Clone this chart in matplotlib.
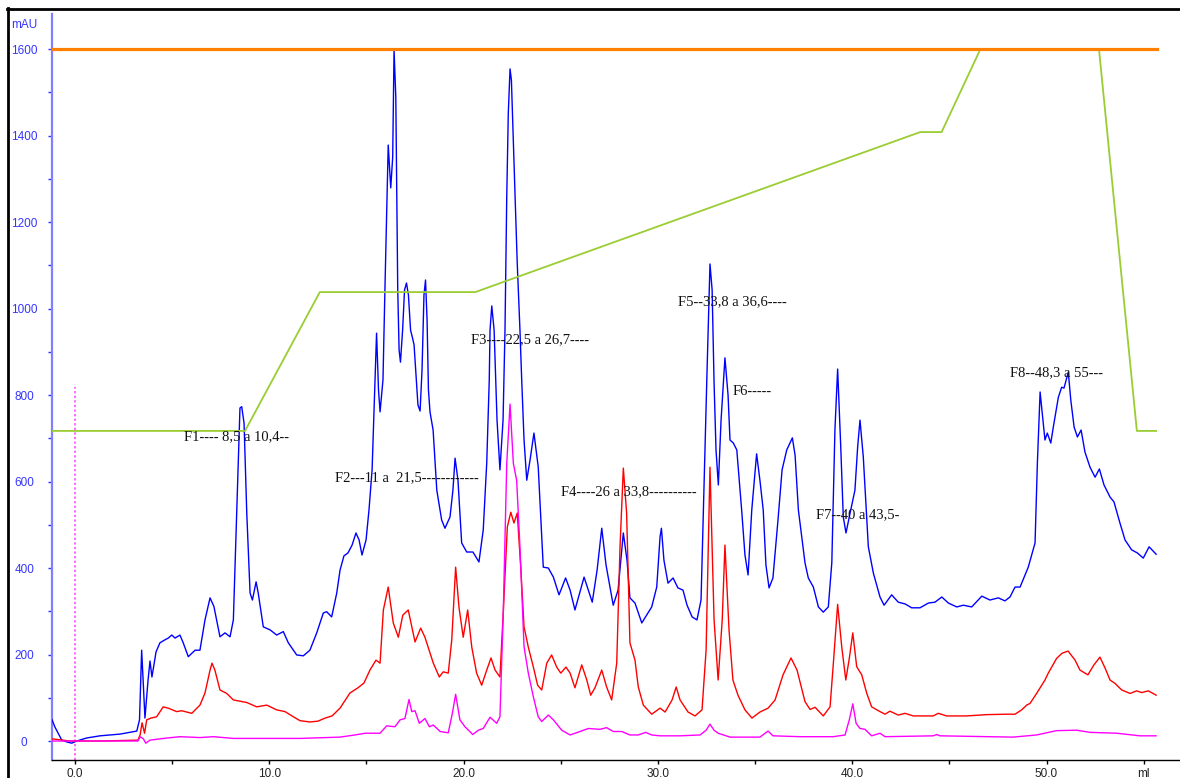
"""
Chromatogram trace (mAU vs ml) with gradient, fraction labels.
"""
import numpy as np
import matplotlib
matplotlib.use("Agg")
import matplotlib.pyplot as plt
from matplotlib.lines import Line2D

# ---- data (ml, mAU) ----
blue_ml = [-1.18, -1.03, -0.68, -0.43, -0.17, 0.09, 0.60, 1.29, 2.32, 3.18, 3.32, 3.43, 3.60,
           3.76, 3.86, 3.96, 4.17, 4.37, 4.63, 4.80, 4.98, 5.15, 5.40, 5.57, 5.83, 6.18, 6.43,
           6.69, 6.95, 7.15, 7.46, 7.72, 7.98, 8.15, 8.32, 8.49, 8.58, 8.70, 8.84, 9.01, 9.13,
           9.32, 9.43, 9.69, 10.04, 10.38, 10.72, 10.98, 11.41, 11.75, 12.09, 12.44, 12.78,
           12.95, 13.21, 13.47, 13.64, 13.84, 14.05, 14.26, 14.46, 14.62, 14.77, 14.98, 15.13,
           15.29, 15.41, 15.52, 15.62, 15.70, 15.85, 15.95, 16.12, 16.25, 16.35, 16.42, 16.51,
           16.61, 16.68, 16.75, 16.86, 16.96, 17.06, 17.16, 17.27, 17.37, 17.45, 17.55, 17.65,
           17.76, 17.86, 17.96, 18.04, 18.12, 18.19, 18.27, 18.43, 18.62, 18.87, 19.04, 19.30,
           19.45, 19.56, 19.71, 19.90, 20.16, 20.48, 20.79, 21.01, 21.19, 21.32, 21.36, 21.45,
           21.57, 21.72, 21.87, 22.03, 22.13, 22.22, 22.30, 22.39, 22.46, 22.54, 22.65, 22.76,
           22.90, 22.99, 23.11, 23.25, 23.42, 23.62, 23.84, 24.10, 24.36, 24.62, 24.91, 25.25,
           25.48, 25.73, 26.20, 26.62, 26.87, 27.11, 27.33, 27.70, 27.95, 28.22, 28.41, 28.56,
           28.82, 29.17, 29.68, 29.94, 30.11, 30.18, 30.31, 30.52, 30.78, 31.03, 31.29, 31.50,
           31.76, 32.01, 32.22, 32.34, 32.53, 32.68, 32.79, 32.89, 32.99, 33.11, 33.25, 33.45,
           33.61, 33.71, 33.88, 34.06, 34.31, 34.48, 34.64, 34.83, 35.08, 35.25, 35.42, 35.56,
           35.72, 35.92, 36.18, 36.39, 36.63, 36.92, 37.06, 37.23, 37.57, 37.74, 38.00, 38.26,
           38.51, 38.77, 38.95, 39.11, 39.25, 39.41, 39.54, 39.68, 39.89, 40.14, 40.28, 40.40,
           40.57, 40.83, 41.09, 41.43, 41.64, 42.03, 42.37, 42.72, 43.06, 43.49, 43.92, 44.26,
           44.61, 44.95, 45.38, 45.72, 46.15, 46.67, 47.09, 47.52, 47.86, 48.12, 48.38, 48.64,
           49.06, 49.41, 49.53, 49.67, 49.92, 50.04, 50.22, 50.35, 50.61, 50.78, 50.90, 51.12,
           51.25, 51.42, 51.59, 51.78, 51.98, 52.24, 52.50, 52.72, 52.96, 53.27, 53.47, 53.78,
           54.04, 54.38, 54.67, 54.98, 55.28, 55.64]
blue_mau = [49, 32, 2, -2, -5, 0, 7, 12, 16, 23, 49, 210, 53,
            141, 185, 148, 206, 227, 234, 238, 245, 238, 245, 227, 195, 210, 210,
            280, 331, 311, 241, 250, 241, 280, 527, 770, 773, 735, 527, 342, 326,
            368, 342, 264, 257, 245, 253, 227, 199, 197, 210, 250, 296,
            299, 287, 342, 395, 428, 435, 453, 481, 465, 430, 465, 534,
            627, 788, 943, 812, 761, 835, 1043, 1378, 1279, 1350, 1598, 1489,
            1043, 904, 876, 950, 1043, 1059, 1031, 950, 932, 916, 846, 777,
            763, 858, 1031, 1066, 973, 812, 761, 719, 580, 511, 492, 518,
            580, 654, 603, 458, 437, 437, 414, 488, 643, 835, 950, 1006,
            950, 742, 627, 742, 950, 1258, 1452, 1554, 1528, 1413, 1258, 1105,
            950, 835, 696, 603, 650, 712, 634, 402, 400, 379, 338, 377,
            349, 303, 379, 321, 395, 492, 407, 314, 349, 481, 418, 331,
            319, 273, 310, 356, 472, 492, 418, 365, 377, 354, 349, 314,
            287, 280, 326, 534, 858, 1103, 1043, 828, 673, 592, 742, 886,
            800, 696, 689, 673, 534, 430, 384, 534, 664, 603, 534, 407,
            354, 377, 511, 627, 673, 701, 661, 534, 412, 377, 356, 310,
            298, 310, 412, 719, 860, 680, 518, 481, 527, 580, 680, 742,
            657, 449, 388, 333, 314, 338, 321, 317, 308, 308, 319, 321,
            333, 319, 310, 314, 310, 335, 326, 331, 324, 333, 356, 356,
            402, 458, 643, 807, 696, 712, 689, 726, 795, 818, 816, 853,
            788, 726, 703, 719, 668, 633, 610, 629, 592, 564, 553, 504,
            465, 442, 435, 423, 449, 432]

red_ml = [-1.18, -0.26, 1.29, 3.24, 3.35, 3.45, 3.58, 3.69, 3.91, 4.20, 4.54, 4.80, 5.23,
          5.49, 6.01, 6.43, 6.69, 6.95, 7.05, 7.20, 7.46, 7.81, 8.15, 8.84, 9.35, 9.87,
          10.38, 10.81, 11.24, 11.58, 12.09, 12.51, 12.87, 13.23, 13.64, 14.15, 14.56, 14.87,
          15.18, 15.49, 15.70, 15.87, 16.12, 16.38, 16.64, 16.87, 17.15, 17.50, 17.79, 18.01,
          18.44, 18.75, 18.95, 19.21, 19.39, 19.59, 19.76, 19.98, 20.21, 20.42, 20.67, 20.93,
          21.19, 21.41, 21.62, 21.87, 22.04, 22.25, 22.43, 22.59, 22.76, 22.94, 23.11, 23.33,
          23.59, 23.81, 24.02, 24.28, 24.53, 24.79, 25.00, 25.27, 25.48, 25.73, 26.08, 26.34,
          26.54, 26.76, 27.11, 27.36, 27.62, 27.88, 28.05, 28.22, 28.39, 28.56, 28.82, 28.99,
          29.25, 29.68, 30.11, 30.37, 30.73, 30.94, 31.14, 31.55, 31.91, 32.27, 32.48, 32.68,
          32.89, 33.10, 33.31, 33.45, 33.66, 33.86, 34.12, 34.48, 34.84, 35.25, 35.67, 36.03,
          36.44, 36.85, 37.16, 37.42, 37.57, 37.83, 38.09, 38.51, 38.86, 39.03, 39.25, 39.46,
          39.67, 39.85, 40.03, 40.23, 40.49, 40.75, 41.00, 41.43, 41.69, 41.94, 42.37, 42.72,
          43.14, 44.17, 44.43, 44.86, 45.89, 46.92, 47.95, 48.38, 48.72, 48.98, 49.15, 49.49,
          49.92, 50.09, 50.52, 50.80, 51.11, 51.47, 51.72, 52.13, 52.44, 52.75, 53.01, 53.27,
          53.53, 53.87, 54.30, 54.64, 54.90, 55.24, 55.64]
red_mau = [5, 0, 0, 2, 14, 42, 18, 49, 53, 56, 79, 76, 68,
           70, 64, 83, 111, 164, 180, 164, 118, 110, 95, 89, 79, 83,
           72, 68, 56, 47, 44, 46, 53, 58, 76, 111, 123, 134,
           164, 187, 180, 303, 356, 273, 240, 291, 303, 229, 261, 240,
           180, 148, 160, 157, 234, 402, 310, 240, 303, 217, 157, 129,
           164, 192, 164, 148, 296, 495, 529, 504, 527, 402, 264, 217,
           171, 129, 118, 180, 199, 171, 157, 171, 157, 123, 176, 141,
           106, 123, 164, 125, 95, 180, 449, 631, 527, 227, 187, 125,
           83, 62, 76, 67, 95, 125, 95, 67, 58, 72, 210, 633,
           280, 141, 280, 453, 257, 141, 106, 72, 53, 67, 76, 95,
           153, 192, 164, 118, 91, 73, 78, 58, 79, 180, 316, 218,
           141, 191, 250, 172, 153, 110, 79, 68, 62, 69, 60, 64,
           58, 58, 64, 58, 58, 61, 62, 62, 72, 83, 87, 110,
           141, 157, 191, 203, 208, 187, 164, 153, 176, 194, 169, 141,
           133, 118, 110, 116, 112, 116, 106]

pink_ml = [-1.18, 1.29, 3.24, 3.35, 3.52, 3.64, 3.86, 4.54, 5.40, 6.43, 7.12, 8.15, 11.58,
           13.64, 14.41, 14.93, 15.70, 16.04, 16.47, 16.73, 16.98, 17.19, 17.33, 17.50, 17.72,
           18.01, 18.24, 18.44, 18.79, 19.21, 19.42, 19.59, 19.81, 20.07, 20.47, 20.76, 21.01,
           21.36, 21.70, 21.87, 22.04, 22.22, 22.39, 22.56, 22.73, 22.90, 23.11, 23.33, 23.59,
           23.84, 24.02, 24.36, 24.62, 25.05, 25.48, 25.99, 26.42, 27.02, 27.36, 27.70, 28.14,
           28.56, 28.99, 29.37, 29.68, 30.11, 31.14, 32.17, 32.48, 32.68, 32.89, 33.10, 33.71,
           35.25, 35.67, 35.92, 37.31, 39.03, 39.63, 39.85, 40.03, 40.20, 40.40, 40.66, 41.00,
           41.43, 41.69, 44.17, 44.35, 44.52, 48.29, 49.49, 50.52, 51.55, 52.24, 53.61, 54.81,
           55.64]
pink_mau = [0, 0, 0, 10, 5, -5, 2, 6, 10, 8, 10, 6, 6,
            9, 14, 18, 18, 35, 33, 49, 52, 96, 68, 70, 41,
            52, 33, 37, 22, 19, 64, 108, 49, 33, 15, 25, 29,
            55, 41, 56, 295, 642, 779, 642, 603, 449, 218, 157, 102,
            56, 45, 60, 49, 25, 14, 22, 29, 27, 31, 22, 22,
            14, 14, 20, 14, 12, 12, 14, 25, 39, 25, 18, 9,
            9, 23, 12, 10, 10, 14, 49, 86, 41, 29, 27, 12,
            18, 10, 12, 15, 12, 9, 14, 24, 25, 20, 18, 12,
            12]

grad_ml = [-1.18, 8.75, 12.6, 20.6, 43.5, 44.6, 46.6, 52.7, 54.65, 55.64]
grad_mau = [717, 717, 1038, 1038, 1408, 1408, 1600, 1600, 717, 717]

limit_ml = [-1.18, 55.67]
limit_mau = [1600, 1600]

inject_ml = 0.0
inject_top = 819

fractions = ["F1---- 8,5 a 10,4--", "F2---11 a  21,5------------", "F3----22,5 a 26,7----",
             "F4----26 a 33,8----------", "F5--33,8 a 36,6----", "F6-----",
             "F7--40 a 43,5-", "F8--48,3 a 55---"]
frac_ml = [5.61, 13.38, 20.38, 25.01, 31.03, 33.87, 38.14, 48.12]
frac_mau = [703, 610, 929, 576, 1015, 807, 523, 851]

x_major = [0, 10, 20, 30, 40, 50, 55]
x_labels = ["0.0", "10.0", "20.0", "30.0", "40.0", "50.0", "ml"]
x_minor = [5, 15, 25, 35, 45]

W, H = 1180, 778
fig = plt.figure(figsize=(W / 100, H / 100), dpi=100)
ax = fig.add_axes([52 / W, 1 - 760 / H, 1 - 52 / W, (760 - 14) / H])
ax.set_xlim(-1.184, 56.87)
ax.set_ylim(-43.9, 1681)

ax.plot(blue_ml, blue_mau, color="#0000ff", lw=1.0, zorder=3)
ax.plot(red_ml, red_mau, color="#ff0000", lw=1.0, zorder=3)
ax.plot(pink_ml, pink_mau, color="#ff00ff", lw=1.0, zorder=3)
ax.plot(grad_ml, grad_mau, color="#9acd32", lw=1.3, zorder=4)
ax.plot(limit_ml, limit_mau, color="#ff8000", lw=2.3, zorder=4)
ax.plot([inject_ml, inject_ml], [-43.9, inject_top], color="#ff40ff", lw=1.1,
        ls=(0, (1.5, 1.5)), zorder=2)

for txt, xm, ym in zip(fractions, frac_ml, frac_mau):
    ax.text(xm, ym, txt, ha="left", va="center", fontsize=10.5,
            family="Liberation Serif", color="#111111", zorder=5)

for s in ["top", "right"]:
    ax.spines[s].set_visible(False)
ax.spines["left"].set_color("#7f7fff")
ax.spines["left"].set_linewidth(1.6)
ax.spines["bottom"].set_color("black")
ax.spines["bottom"].set_linewidth(1.0)

ax.set_yticks(np.arange(0, 1601, 200))
ax.set_yticks(np.arange(100, 1601, 200), minor=True)
ax.set_xticks(x_major)
ax.set_xticklabels(x_labels)
ax.set_xticks(x_minor, minor=True)

ax.tick_params(axis="y", which="both", length=3, width=1, color="#3030ff",
               labelcolor="#3535ff", labelsize=8.5, pad=17)
ax.tick_params(axis="x", which="both", length=3, width=1, color="black",
               labelcolor="#222222", labelsize=8.5, pad=3)
for lab in ax.get_yticklabels():
    lab.set_horizontalalignment("center")
    lab.set_family("Liberation Sans")
for lab in ax.get_xticklabels():
    lab.set_family("Liberation Sans")

fig.text(24 / W, 1 - 25 / H, "mAU", ha="center", va="center", fontsize=8.5,
         color="#3535ff", family="Liberation Sans")

# outer black frame (left and top)
fig.add_artist(Line2D([7.5 / W, 7.5 / W], [0, 1 - 8 / H], color="black", lw=2))
fig.add_artist(Line2D([7 / W, 1], [1 - 8.5 / H, 1 - 8.5 / H], color="black", lw=2))

fig.savefig("out.png", dpi=100)
